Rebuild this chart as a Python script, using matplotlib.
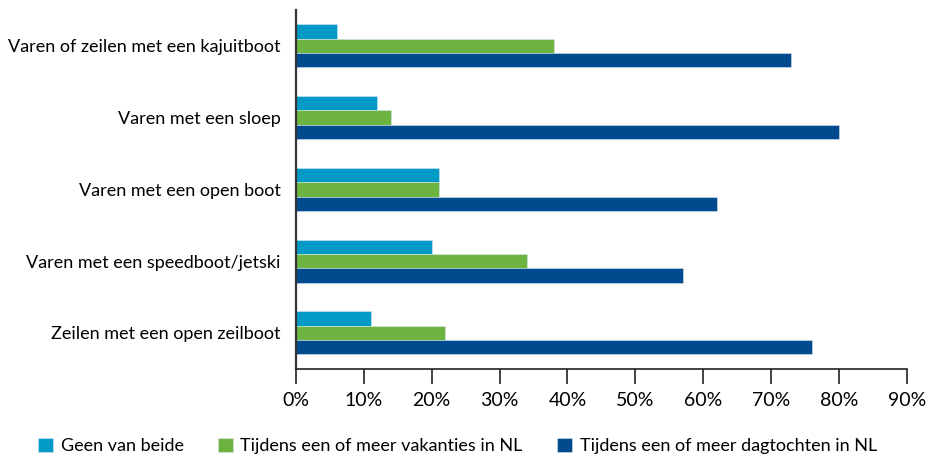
import numpy as np
import matplotlib
matplotlib.use('Agg')
import matplotlib.pyplot as plt

# categories listed top to bottom
categories = [
    'Varen of zeilen met een kajuitboot',
    'Varen met een sloep',
    'Varen met een open boot',
    'Varen met een speedboot/jetski',
    'Zeilen met een open zeilboot',
]
series_names = [
    'Geen van beide',
    'Tijdens een of meer vakanties in NL',
    'Tijdens een of meer dagtochten in NL',
]
geen = [6, 12, 21, 20, 11]
vakanties = [38, 14, 21, 34, 22]
dagtochten = [73, 80, 62, 57, 76]
colors = ['#009AC7', '#6DB33F', '#004B8D']
xticks = [0, 10, 20, 30, 40, 50, 60, 70, 80, 90]

plt.rcParams['font.family'] = ['Lato', 'DejaVu Sans']

fig = plt.figure(figsize=(9.32, 4.55), dpi=100)
ax = fig.add_axes([0.3176, 0.1897, 0.9729 - 0.3176, 0.978 - 0.1897])

n = len(categories)
y = np.arange(n)[::-1]
h = 0.2
for i, (vals, name, c) in enumerate(zip([geen, vakanties, dagtochten], series_names, colors)):
    ax.barh(y + h - i * h, vals, height=h, color=c, label=name,
            edgecolor='#d9e2ea', linewidth=0.4)

ax.set_xlim(0, 90)
ax.set_ylim(-0.5, n - 0.5)
ax.set_xticks(xticks)
ax.set_xticklabels([f'{t}%' for t in xticks], fontsize=14)
ax.set_yticks(y)
ax.set_yticklabels(categories, fontsize=13)
ax.tick_params(axis='y', length=0, pad=11)
ax.tick_params(axis='x', length=11, width=1.2, color='#222222', pad=6)
for s in ['top', 'right']:
    ax.spines[s].set_visible(False)
ax.spines['left'].set_linewidth(1.6)
ax.spines['left'].set_color('#333333')
ax.spines['bottom'].set_linewidth(1.2)
ax.spines['bottom'].set_color('#222222')

fig.legend(loc='lower left', bbox_to_anchor=(38 / 932, 1 / 455), ncol=3, frameon=False,
           fontsize=13, handlelength=0.85, handleheight=0.85, handletextpad=0.4,
           columnspacing=1.9, borderaxespad=0, borderpad=0)

fig.savefig('out.png', dpi=100)
